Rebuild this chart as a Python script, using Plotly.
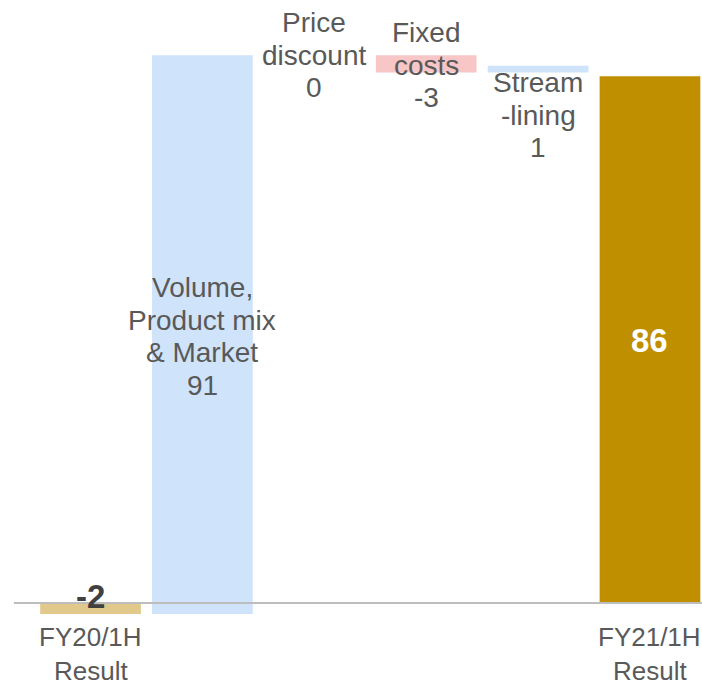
import plotly.graph_objects as go

# ---- data ----
categories = ["FY20/1H<br>Result", "Volume,<br>Product mix<br>& Market", "Price<br>discount",
              "Fixed<br>costs", "Stream<br>-lining", "FY21/1H<br>Result"]
changes = [-1.8, 91.0, 0.0, -2.8, 1.1]   # start value + steps
result = 85.8
shown_values = ["-2", "91", "0", "-3", "1", "86"]
bar_colors = ["#E0C98B", "#CFE4FA", "#CFE4FA", "#F8C6C6", "#CFE4FA", "#BF8F00"]

# cumulative bases
bases = []
run = 0.0
for i, v in enumerate(changes):
    if i == 0:
        bases.append(0.0)
        run = v
    else:
        bases.append(run)
        run += v
bases.append(0.0)
heights = changes + [result]

x = list(range(len(categories)))
font = "Arial, Liberation Sans, sans-serif"
grey = "#595959"

fig = go.Figure()
fig.add_trace(go.Bar(
    x=x, y=heights, base=bases, width=0.9,
    marker=dict(color=bar_colors, line=dict(width=0)),
    hoverinfo="skip", showlegend=False,
))

# zero line on top of bars
fig.add_shape(type="line", xref="x", x0=-0.684, x1=5.465, yref="y", y0=0, y1=0,
              line=dict(color="#BDBDBD", width=2), layer="above")

PX = 6.14   # pixels per unit, used only to space text lines
ann = []
first_line = {1: (603 - 288) / PX, 2: (603 - 23) / PX, 3: (603 - 33) / PX, 4: (603 - 83) / PX}
for i, y0 in first_line.items():
    lines = categories[i].split("<br>") + [shown_values[i]]
    for k, t in enumerate(lines):
        ann.append(dict(x=x[i], y=y0 - k * 32.5 / PX, xref="x", yref="y",
                        text=t, showarrow=False,
                        font=dict(family=font, size=28, color=grey),
                        xanchor="center", yanchor="middle"))
# end labels under axis
for i in (0, 5):
    for k, t in enumerate(categories[i].split("<br>")):
        ann.append(dict(x=x[i], y=(603 - 637 - k * 34) / PX, xref="x", yref="y", text=t,
                        showarrow=False, font=dict(family=font, size=26, color=grey),
                        xanchor="center", yanchor="middle"))
# value labels of totals
ann.append(dict(x=x[0], y=1.14, xref="x", yref="y", text="<b>" + shown_values[0] + "</b>",
                showarrow=False, font=dict(family=font, size=33, color="#404040"),
                xanchor="center", yanchor="middle"))
ann.append(dict(x=x[5], y=42.7, xref="x", yref="y", text="<b>" + shown_values[5] + "</b>",
                showarrow=False, font=dict(family=font, size=33, color="white"),
                xanchor="center", yanchor="middle"))

fig.update_layout(
    width=702, height=687,
    margin=dict(l=0, r=0, t=0, b=0),
    paper_bgcolor="white", plot_bgcolor="white",
    xaxis=dict(range=[-0.809, 5.465], visible=False, fixedrange=True),
    yaxis=dict(range=[-13.68, 98.2], visible=False, fixedrange=True),
    annotations=ann,
    barmode="overlay",
)

fig.write_html("out.html", config={"displayModeBar": False},
               post_script="document.body.style.margin='0';document.body.style.overflow='hidden';")
